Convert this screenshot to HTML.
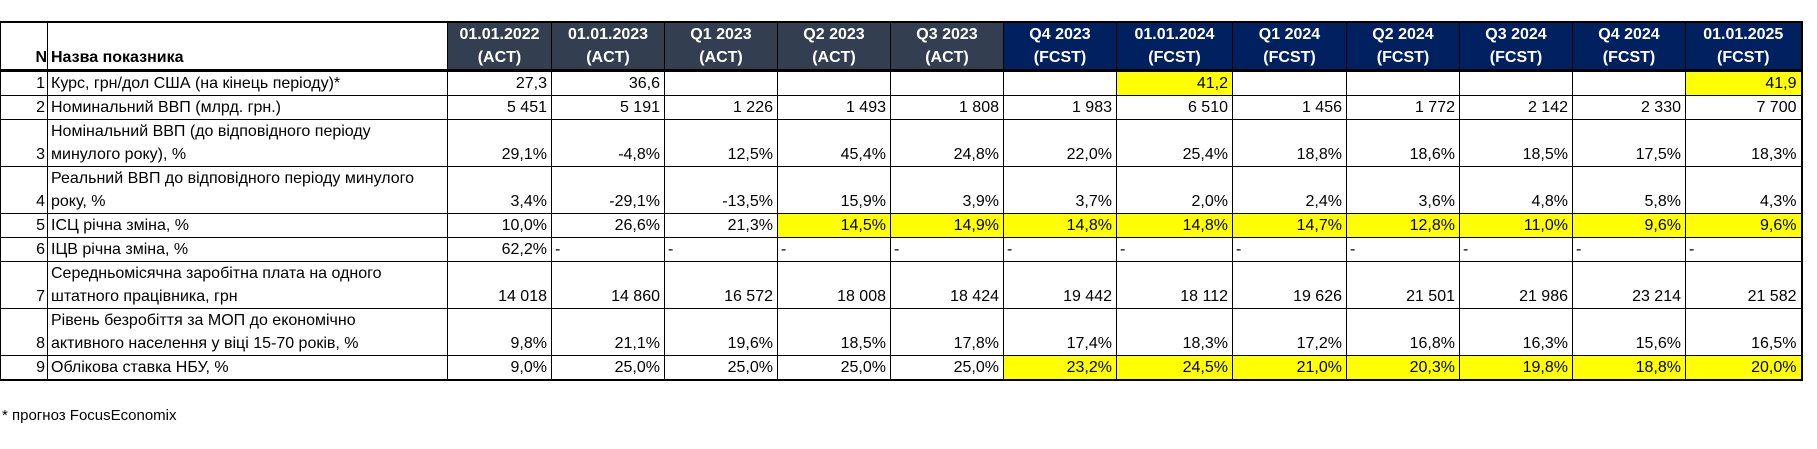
<!DOCTYPE html>
<html><head><meta charset="utf-8"><style>
body{margin:0;width:1817px;height:449px;background:#fff;position:relative;overflow:hidden;font-family:"Liberation Sans",sans-serif;font-size:16px;color:#000}
table{position:absolute;left:0;top:21px;border-collapse:collapse;table-layout:fixed;width:1801px}
td{border:1px solid #000;padding:0 4px 0 3px;line-height:23px;vertical-align:bottom;white-space:nowrap;overflow:hidden;text-align:right;box-sizing:border-box}
td.n{padding:0 2px 0 0}
td.l{text-align:left}
tr.h td{height:46px;line-height:23px;vertical-align:middle;text-align:center;font-weight:bold;color:#fff;font-size:16px;padding:0;border-bottom:3px solid #000;border-top:2px solid #000}
tr.h td.w{background:#fff;color:#000;vertical-align:bottom;font-size:16px;line-height:23px}
tr.h td.a{background:#333f50}
tr.h td.f{background:#002060}
td.y{background:#ffff00}
tr.r1 td{height:24px}
tr.r2 td{height:47px}
td.last{border-right:2px solid #000}
tr.b td{border-bottom:2px solid #000}
.fn{position:absolute;left:2px;top:407px;font-size:15px}
</style></head><body>
<table>
<colgroup><col style="width:47px"><col style="width:400px"><col style="width:104px"><col style="width:113px"><col style="width:113px"><col style="width:113px"><col style="width:113px"><col style="width:113px"><col style="width:116px"><col style="width:114px"><col style="width:113px"><col style="width:113px"><col style="width:113px"><col style="width:116px"></colgroup>
<tr class="h"><td class="w n" style="text-align:right">N</td><td class="w l" style="text-align:left;padding-left:3px">Назва показника</td>
<td class="a">01.01.2022<br>(ACT)</td><td class="a">01.01.2023<br>(ACT)</td><td class="a">Q1 2023<br>(ACT)</td><td class="a">Q2 2023<br>(ACT)</td><td class="a">Q3 2023<br>(ACT)</td>
<td class="f">Q4 2023<br>(FCST)</td><td class="f">01.01.2024<br>(FCST)</td><td class="f">Q1 2024<br>(FCST)</td><td class="f">Q2 2024<br>(FCST)</td><td class="f">Q3 2024<br>(FCST)</td><td class="f">Q4 2024<br>(FCST)</td><td class="f last">01.01.2025<br>(FCST)</td></tr>
<tr class="r1"><td class="n">1</td><td class="l">Курс, грн/дол США (на кінець періоду)*</td><td>27,3</td><td>36,6</td><td></td><td></td><td></td><td></td><td class="y">41,2</td><td></td><td></td><td></td><td></td><td class="y last">41,9</td></tr>
<tr class="r1"><td class="n">2</td><td class="l">Номинальний ВВП (млрд. грн.)</td><td>5 451</td><td>5 191</td><td>1 226</td><td>1 493</td><td>1 808</td><td>1 983</td><td>6 510</td><td>1 456</td><td>1 772</td><td>2 142</td><td>2 330</td><td class="last">7 700</td></tr>
<tr class="r2"><td class="n">3</td><td class="l">Номінальний ВВП (до відповідного періоду<br>минулого року), %</td><td>29,1%</td><td>-4,8%</td><td>12,5%</td><td>45,4%</td><td>24,8%</td><td>22,0%</td><td>25,4%</td><td>18,8%</td><td>18,6%</td><td>18,5%</td><td>17,5%</td><td class="last">18,3%</td></tr>
<tr class="r2"><td class="n">4</td><td class="l">Реальний ВВП до відповідного періоду минулого<br>року, %</td><td>3,4%</td><td>-29,1%</td><td>-13,5%</td><td>15,9%</td><td>3,9%</td><td>3,7%</td><td>2,0%</td><td>2,4%</td><td>3,6%</td><td>4,8%</td><td>5,8%</td><td class="last">4,3%</td></tr>
<tr class="r1"><td class="n">5</td><td class="l">ІСЦ річна зміна, %</td><td>10,0%</td><td>26,6%</td><td>21,3%</td><td class="y">14,5%</td><td class="y">14,9%</td><td class="y">14,8%</td><td class="y">14,8%</td><td class="y">14,7%</td><td class="y">12,8%</td><td class="y">11,0%</td><td class="y">9,6%</td><td class="y last">9,6%</td></tr>
<tr class="r1"><td class="n">6</td><td class="l">ІЦВ річна зміна, %</td><td>62,2%</td><td class="l">-</td><td class="l">-</td><td class="l">-</td><td class="l">-</td><td class="l">-</td><td class="l">-</td><td class="l">-</td><td class="l">-</td><td class="l">-</td><td class="l">-</td><td class="l last">-</td></tr>
<tr class="r2"><td class="n">7</td><td class="l">Середньомісячна заробітна плата на одного<br>штатного працівника, грн</td><td>14 018</td><td>14 860</td><td>16 572</td><td>18 008</td><td>18 424</td><td>19 442</td><td>18 112</td><td>19 626</td><td>21 501</td><td>21 986</td><td>23 214</td><td class="last">21 582</td></tr>
<tr class="r2"><td class="n">8</td><td class="l">Рівень безробіття за МОП до економічно<br>активного населення у віці 15-70 років, %</td><td>9,8%</td><td>21,1%</td><td>19,6%</td><td>18,5%</td><td>17,8%</td><td>17,4%</td><td>18,3%</td><td>17,2%</td><td>16,8%</td><td>16,3%</td><td>15,6%</td><td class="last">16,5%</td></tr>
<tr class="r1 b"><td class="n">9</td><td class="l">Облікова ставка НБУ, %</td><td>9,0%</td><td>25,0%</td><td>25,0%</td><td>25,0%</td><td>25,0%</td><td class="y">23,2%</td><td class="y">24,5%</td><td class="y">21,0%</td><td class="y">20,3%</td><td class="y">19,8%</td><td class="y">18,8%</td><td class="y last">20,0%</td></tr>
</table>
<div class="fn">* прогноз FocusEconomix</div>
</body></html>
